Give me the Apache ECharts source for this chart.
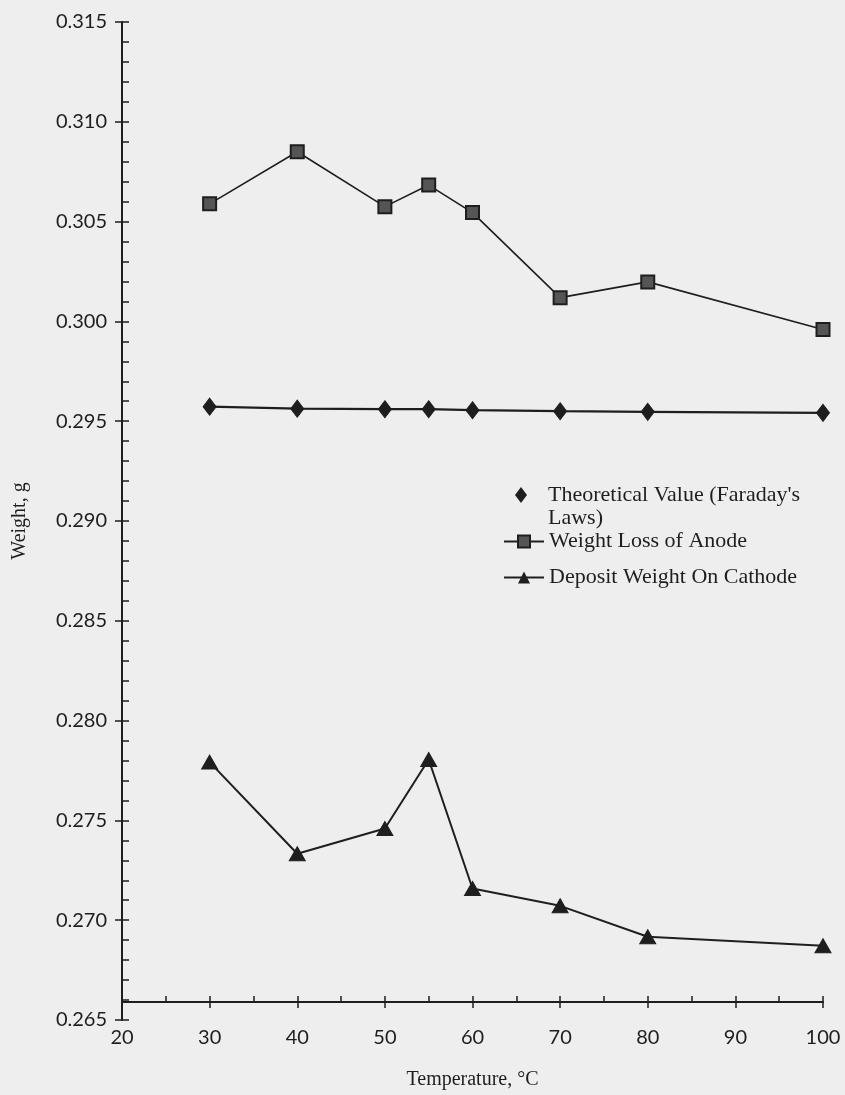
<!DOCTYPE html>
<html>
<head>
<meta charset="utf-8">
<script src="https://cdn.jsdelivr.net/npm/echarts@6/dist/echarts.min.js"></script>
<style>
html,body{margin:0;padding:0;background:#eeeeee;}
#c{width:845px;height:1095px;}
</style>
</head>
<body>
<div id="c"></div>
<script>
var temps = [30, 40, 50, 55, 60, 70, 80, 100];
var theoretical = [0.29573, 0.29563, 0.2956, 0.2956, 0.29555, 0.2955, 0.29547, 0.29542];
var anodeLoss = [0.30589, 0.3085, 0.30575, 0.30683, 0.30545, 0.30119, 0.30198, 0.29959];
var cathodeDeposit = [0.27792, 0.27333, 0.27459, 0.27805, 0.27159, 0.27072, 0.26917, 0.26872];
var seriesNames = ["Theoretical Value (Faraday's\nLaws)", "Weight Loss of Anode", "Deposit Weight On Cathode"];

function pairs(vals){ return temps.map(function(t,i){ return [t, vals[i]]; }); }

var ink = '#1e1e1e';
var chart = echarts.init(document.getElementById('c'));
var tickFont = {fontFamily: 'Lato', fontSize: 20, color: ink};
var serif = 'Liberation Serif';
var legendText = {fontFamily: serif, fontSize: 22, color: ink, lineHeight: 23};

function legendFor(item, left, top, w, h, textStyle){
  return {
    orient: 'vertical', left: left, top: top, padding: 0,
    itemWidth: w, itemHeight: h, itemGap: 0, symbolKeepAspect: true,
    textStyle: textStyle, selectedMode: false,
    data: [item]
  };
}

// diamond drawn in the top part of a 12x40 icon box, so that it lines up with the first text line
var diamondIcon = 'path://M6,0L12,8L6,16L0,8Z M6,39.9L6.1,40L6,40Z';

chart.setOption({
  backgroundColor: '#eeeeee',
  animation: false,
  grid: {left: 122, right: 22, top: 22, bottom: 73, containLabel: false},
  legend: [
    legendFor({name: seriesNames[0], icon: diamondIcon}, 515, 484, 12, 40,
      Object.assign({padding: [0, 0, 0, 16]}, legendText)),
    legendFor({name: seriesNames[1]}, 503, 530, 40, 15, legendText),
    legendFor({name: seriesNames[2]}, 503, 566, 40, 15, legendText)
  ],
  xAxis: [{
    type: 'value', min: 20, max: 100, interval: 10, offset: -18,
    name: 'Temperature, °C', nameLocation: 'middle', nameGap: 68,
    nameTextStyle: {fontFamily: serif, fontSize: 20, color: ink},
    axisLine: {show: true, onZero: false, lineStyle: {color: ink, width: 2}},
    axisTick: {show: true, inside: true, length: 6, lineStyle: {color: ink, width: 1.5}},
    minorTick: {show: true, splitNumber: 2, length: 6, lineStyle: {color: ink, width: 1.5}},
    axisLabel: Object.assign({margin: 26}, tickFont),
    splitLine: {show: false}
  }, {
    type: 'value', min: 20, max: 100, interval: 10, offset: -18, position: 'bottom',
    axisLine: {show: false, onZero: false},
    axisTick: {show: true, inside: false, length: 6, lineStyle: {color: ink, width: 1.5}},
    axisLabel: {show: false}, splitLine: {show: false}
  }],
  yAxis: [{
    type: 'value', min: 0.265, max: 0.315, interval: 0.005,
    name: 'Weight, g', nameLocation: 'middle', nameGap: 92,
    nameTextStyle: {fontFamily: serif, fontSize: 20, color: ink},
    axisLine: {show: true, onZero: false, lineStyle: {color: ink, width: 2}},
    axisTick: {show: true, inside: true, length: 7, lineStyle: {color: ink, width: 1.5}},
    minorTick: {show: true, splitNumber: 5, length: 7, lineStyle: {color: ink, width: 1.5}},
    axisLabel: Object.assign({margin: 15, formatter: function(v){ return v.toFixed(3); }}, tickFont),
    splitLine: {show: false}
  }, {
    type: 'value', min: 0.265, max: 0.315, interval: 0.005, position: 'left',
    axisLine: {show: false, onZero: false},
    axisTick: {show: true, inside: false, length: 7, lineStyle: {color: ink, width: 1.5}},
    axisLabel: {show: false}, splitLine: {show: false}
  }],
  series: [{
    name: seriesNames[0], type: 'line', data: pairs(theoretical),
    symbol: 'diamond', symbolSize: [13, 17],
    lineStyle: {color: ink, width: 2.2}, itemStyle: {color: ink, borderColor: ink}
  }, {
    name: seriesNames[1], type: 'line', data: pairs(anodeLoss),
    symbol: 'rect', symbolSize: 13,
    lineStyle: {color: ink, width: 1.6}, itemStyle: {color: '#555555', borderColor: ink, borderWidth: 2}
  }, {
    name: seriesNames[2], type: 'line', data: pairs(cathodeDeposit),
    symbol: 'triangle', symbolSize: [16, 14],
    lineStyle: {color: ink, width: 2}, itemStyle: {color: ink, borderColor: ink}
  }]
});
</script>
</body>
</html>
